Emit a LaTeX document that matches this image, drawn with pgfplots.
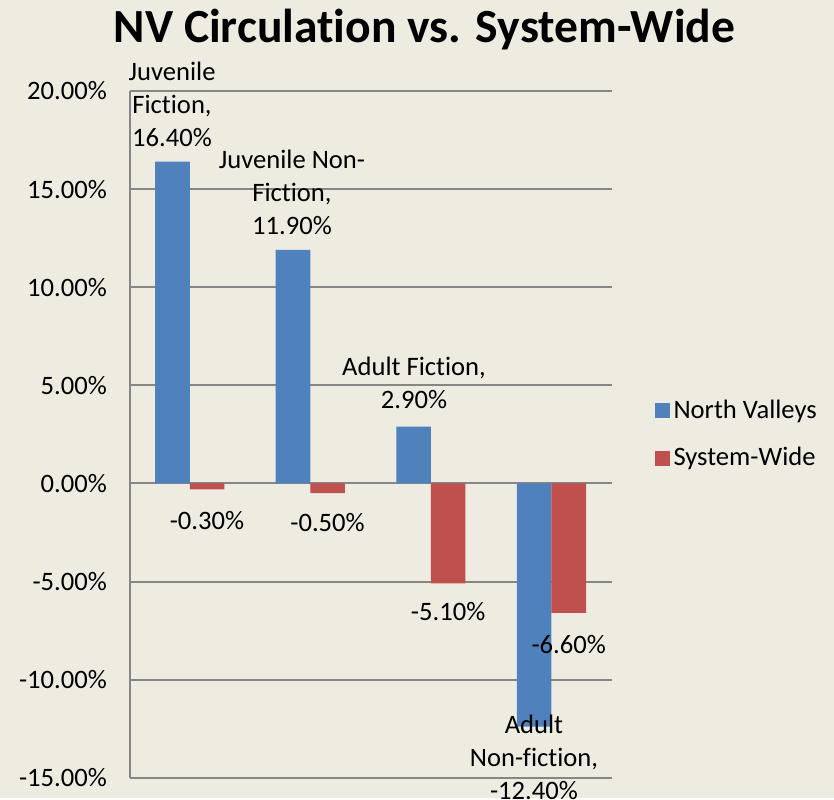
\documentclass[border=0pt]{standalone}
\usepackage{fontspec}
\setmainfont{Carlito}[RawFeature={-liga;-clig;-calt;-dlig}]
\usepackage{pgfplots}
\pgfplotsset{compat=1.18}
\definecolor{bgc}{RGB}{238,236,225}
\definecolor{nvblue}{RGB}{79,129,189}
\definecolor{swred}{RGB}{192,80,77}
\definecolor{gridc}{RGB}{134,134,134}
\pgfplotsset{
  sqlegend/.style={legend image code/.code={\fill[##1] (0pt,-3.75pt) rectangle (7.5pt,3.75pt);}},
}
\tikzset{lbl/.style={align=center, inner sep=0pt, font=\fontsize{13.3}{16.5}\selectfont}}
\begin{document}
\begin{tikzpicture}[x=0.5pt,y=0.5pt]
\fill[bgc] (0,0) rectangle (834,798);
\node[font=\bfseries\fontsize{23.8}{28}\selectfont, anchor=base] at (424.5,755) {NV Circulat\kern0pt ion vs. System-Wide};
\begin{axis}[
  at={(64.75pt,10.15pt)}, anchor=south west,
  scale only axis, width=241.1pt, height=343.35pt,
  xmin=-0.5, xmax=3.5, ymin=-15, ymax=20,
  xtick=\empty, ytick={-15,-10,...,20},
  yticklabels={-15.00\%,-10.00\%,-5.00\%,0.00\%,5.00\%,10.00\%,15.00\%,20.00\%},
  yticklabel style={font=\fontsize{13.3}{16}\selectfont, xshift=-7.8pt},
  ymajorgrids, major grid style={gridc, line width=1pt},
  axis line style={draw=none}, major tick length=0pt,
  clip=false,
  legend style={at={(1.088,0.5)}, anchor=west, draw=none, fill=none,
    font=\fontsize{13.3}{16}\selectfont, row sep=9pt, inner sep=0pt},
  legend cell align=left,
]
\addplot[ybar, bar width=0.287, bar shift=-0.1435, fill=nvblue, draw=none, sqlegend]
  coordinates {(0,16.4) (1,11.9) (2,2.9) (3,-12.4)};
\addlegendentry{North Valleys}
\addplot[ybar, bar width=0.287, bar shift=0.1435, fill=swred, draw=none, sqlegend]
  coordinates {(0,-0.3) (1,-0.5) (2,-5.1) (3,-6.6)};
\addlegendentry{System-Wide}
\draw[gridc, line width=1pt] (rel axis cs:0,0) -- (rel axis cs:0,1);
% data labels
\node[lbl] at (axis cs:-0.147,19.34) {Juvenile\\Fict\kern0pt ion,\\16.40\%};
\node[lbl] at (axis cs:0.848,14.85) {Juvenile Non-\\Fict\kern0pt ion,\\11.90\%};
\node[lbl] at (axis cs:1.86,5.12) {Adult Fict\kern0pt ion,\\2.90\%};
\node[lbl] at (axis cs:2.855,-13.94) {Adult\\Non-f\kern0pt ict\kern0pt ion,\\-12.40\%};
\node[lbl] at (axis cs:0.143,-1.87) {-0.30\%};
\node[lbl] at (axis cs:1.143,-2.0) {-0.50\%};
\node[lbl] at (axis cs:2.143,-6.55) {-5.10\%};
\node[lbl] at (axis cs:3.143,-8.19) {-6.60\%};
\end{axis}
\end{tikzpicture}
\end{document}
